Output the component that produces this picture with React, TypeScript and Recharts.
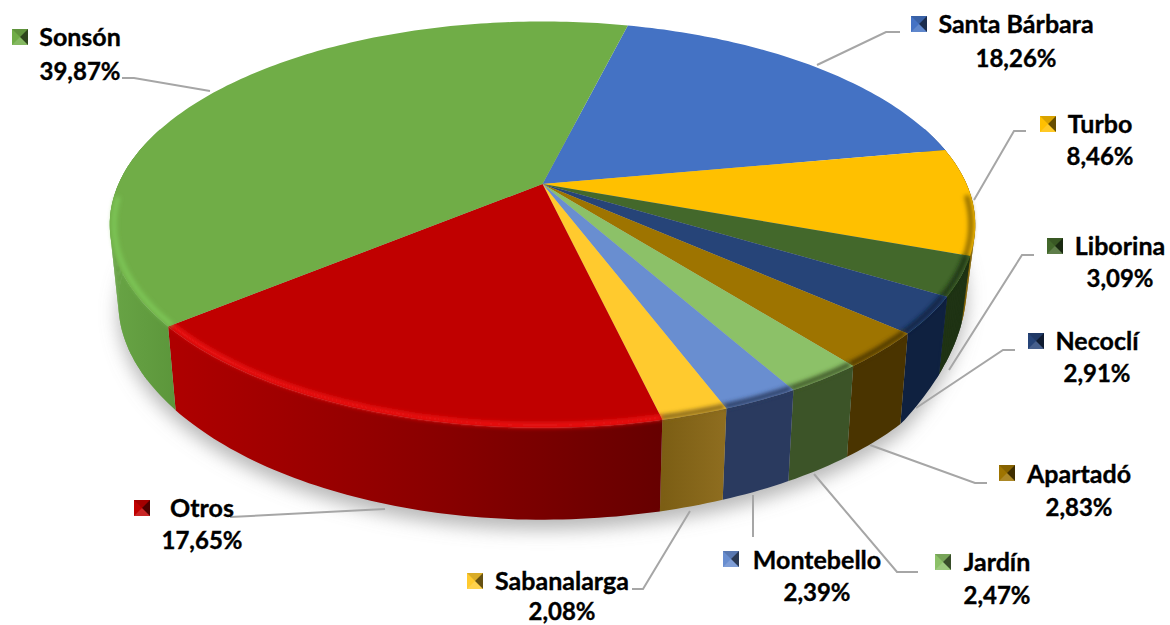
import React from "react";
import { Pie, PieChart } from "recharts";

const NAMES = ["Santa Bárbara", "Turbo", "Liborina", "Necoclí", "Apartadó", "Jardín", "Montebello", "Sabanalarga", "Otros", "Sonsón"];
const SHARES = [18.26, 8.46, 3.09, 2.91, 2.83, 2.47, 2.39, 2.08, 17.65, 39.87];

const TOP_COLORS = ["#4472C4", "#FFC000", "#43682B", "#264478", "#9E7400", "#8CC168", "#698ED0", "#FFCA2E", "#C00000", "#70AD47"];
const WALL_COLORS = ["#2F5597", "#7F6000", "#1F3314", "#0F2140", "#4A3400", "#3C5428", "#2A3A5F", "url(#sabanaWall)", "url(#otrosWall)", "url(#sonsonWall)"];
const RIM_COLORS = ["#2F5597", "#8F6C00", "#1F3314", "#0F2140", "#4A3400", "#3C5428", "#2A3A5F", "#82631C", "#F01818", "#7DC656"];

// text centre, baselines, marker corner, leader line for each label
const LABEL_LAYOUT = [
  { x: 1016, y: 33, y2: 67, mx: 911, my: 16, line: "817,65 886,32 900,32" },
  { x: 1100, y: 133, y2: 165, mx: 1040, my: 116, line: "974,200 1014,131 1026,131" },
  { x: 1120, y: 255, y2: 287, mx: 1047, my: 238, line: "949,370 1022,255 1034,255" },
  { x: 1097, y: 350, y2: 382, mx: 1028, my: 333, line: "916,408 1003,350 1015,350" },
  { x: 1079, y: 483, y2: 516, mx: 999, my: 465, line: "870,445 975,483 987,483" },
  { x: 997, y: 571, y2: 604, mx: 935, my: 554, line: "814,474 897,572 918,572" },
  { x: 817, y: 569, y2: 601, mx: 723, my: 551, line: "753,495 753,537" },
  { x: 562, y: 590, y2: 620, mx: 467, my: 573, line: "690,511 643,589 632,589" },
  { x: 202, y: 517, y2: 549, mx: 134, my: 500, line: "385,509 230,517" },
  { x: 80, y: 46, y2: 80, mx: 12, my: 29, line: "210,91 134,78 122,78" },
];

const slices = NAMES.map((name, i) => ({ name, value: SHARES[i], fill: TOP_COLORS[i] }));
const wholePie = [{ name: "sombra", value: SHARES.reduce((a, b) => a + b, 0) }];

const CX = 542.5;
const CY = 184;
const RADIUS = 424;
const TILT = 195 / 424;
const PERSPECTIVE = 0.2;
const BOTTOM_SCALE = 0.98;

// perspective view of a point on the rim, angle as recharts gives it
function project(cx: number, cy: number, r: number, angle: number) {
  const a = (angle * Math.PI) / 180;
  const X = Math.cos(a);
  const Y = -Math.sin(a);
  const s = 1 / (1 - PERSPECTIVE * Y);
  return { x: cx + r * X * s, y: cy + r * TILT * Y * s, X, Y };
}

function wallHeight(X: number) {
  return 92 - (X < 0 ? 14 * X * X : 2 * X) - 120 * Math.max(0, X - 0.75);
}

function projectBottom(cx: number, cy: number, r: number, angle: number) {
  const p = project(cx, cy, r, angle);
  return { x: cx + (p.x - cx) * BOTTOM_SCALE, y: p.y + wallHeight(p.X) };
}

function sampleAngles(start: number, end: number) {
  const n = Math.max(2, Math.ceil(Math.abs(end - start)));
  return Array.from({ length: n + 1 }, (_, i) => start + ((end - start) * i) / n);
}

function sliceIndex(props: any) {
  return NAMES.indexOf(props.payload?.name ?? props.name);
}

function toPath(points: { x: number; y: number }[]) {
  return points.map((p, i) => `${i ? "L" : "M"}${p.x.toFixed(1)} ${p.y.toFixed(1)}`).join(" ");
}

function ShadowShape(props: any) {
  const { cx, cy, outerRadius, startAngle, endAngle } = props;
  const pts = sampleAngles(startAngle, endAngle).map((a) => projectBottom(cx, cy, outerRadius, a));
  return <path d={`${toPath(pts)} Z`} transform="translate(0 10)" fill="#888" fillOpacity={0.6} filter="url(#softShadow)" />;
}

// one strip for the face, extra quads at the far left and right keep the silhouette tangent
function WallShape(props: any) {
  const { cx, cy, outerRadius, startAngle, endAngle } = props;
  const angles = sampleAngles(startAngle, endAngle).filter((a) => project(cx, cy, outerRadius, a).Y > -0.3);
  if (angles.length < 2) return null;
  const color = WALL_COLORS[sliceIndex(props)];
  const top = angles.map((a) => project(cx, cy, outerRadius, a));
  const bottom = angles.map((a) => projectBottom(cx, cy, outerRadius, a));
  return (
    <g>
      <path d={`${toPath([...top, ...[...bottom].reverse()])} Z`} fill={color} />
      {angles.slice(1).map((_, i) => {
        if (Math.abs(top[i].X) < 0.85) return null;
        const quad = [top[i], top[i + 1], bottom[i + 1], bottom[i]];
        return <path key={i} d={`${toPath(quad)} Z`} fill={color} />;
      })}
    </g>
  );
}

function TopShape(props: any) {
  const { cx, cy, outerRadius, startAngle, endAngle, fill } = props;
  const angles = sampleAngles(startAngle, endAngle);
  const rim = angles.map((a) => project(cx, cy, outerRadius * 0.99, a)).filter((p) => p.Y > 0.05);
  const outline = angles.map((a) => project(cx, cy, outerRadius, a));
  return (
    <g>
      <path d={`M${cx} ${cy} ${toPath(outline).replace("M", "L")} Z`} fill={fill} />
      {rim.length > 1 && (
        <path
          d={toPath(rim)}
          fill="none"
          stroke={RIM_COLORS[sliceIndex(props)]}
          strokeWidth={5}
          filter="url(#softRim)"
        />
      )}
    </g>
  );
}

function Marker({ x, y, color }: { x: number; y: number; color: string }) {
  const size = 16;
  const c = size / 2;
  return (
    <g transform={`translate(${x} ${y})`}>
      <rect width={size} height={size} fill={color} />
      <polygon points={`0,0 ${size},0 ${c},${c}`} fill="#000" fillOpacity={0.15} />
      <polygon points={`${size},0 ${size},${size} ${c},${c}`} fill="#000" fillOpacity={0.6} />
      <polygon points={`0,${size} ${size},${size} ${c},${c}`} fill="#fff" fillOpacity={0.15} />
    </g>
  );
}

const labelFont = { fontFamily: "Lato", fontWeight: 700, fill: "#000", stroke: "#000", strokeWidth: 0.35 };

function renderLabel(props: any) {
  const i = sliceIndex(props);
  const spot = LABEL_LAYOUT[i];
  const share = SHARES[i].toFixed(2).replace(".", ",") + "%";
  return (
    <g key={NAMES[i]}>
      <polyline points={spot.line} fill="none" stroke="#A6A6A6" strokeWidth={2} />
      <Marker x={spot.mx} y={spot.my} color={TOP_COLORS[i]} />
      <text x={spot.x} y={spot.y} textAnchor="middle" fontSize={25} {...labelFont}>
        {NAMES[i]}
      </text>
      <text x={spot.x} y={spot.y2} textAnchor="middle" fontSize={24} {...labelFont}>
        {share}
      </text>
    </g>
  );
}

export default function App() {
  const pieProps = { cx: CX, cy: CY, outerRadius: RADIUS, startAngle: 76.1, endAngle: -283.9, dataKey: "value", nameKey: "name", stroke: "none", isAnimationActive: false };
  return (
    <div style={{ position: "absolute", left: 0, top: 0, width: 1170, height: 625, background: "#fff" }}>
      <PieChart width={1170} height={625} margin={{ top: 0, right: 0, bottom: 0, left: 0 }}>
        <defs>
          <filter id="softShadow" filterUnits="userSpaceOnUse" x="0" y="0" width="1170" height="625">
            <feGaussianBlur stdDeviation="9" />
          </filter>
          <filter id="softRim" filterUnits="userSpaceOnUse" x="0" y="0" width="1170" height="625">
            <feGaussianBlur stdDeviation="2" />
          </filter>
          <linearGradient id="otrosWall" gradientUnits="userSpaceOnUse" x1="175" y1="0" x2="663" y2="0">
            <stop offset="0" stopColor="#AE0000" />
            <stop offset="0.5" stopColor="#8C0000" />
            <stop offset="1" stopColor="#660000" />
          </linearGradient>
          <linearGradient id="sonsonWall" gradientUnits="userSpaceOnUse" x1="108" y1="0" x2="180" y2="0">
            <stop offset="0" stopColor="#69A546" />
            <stop offset="1" stopColor="#5B953A" />
          </linearGradient>
          <linearGradient id="sabanaWall" gradientUnits="userSpaceOnUse" x1="663" y1="0" x2="727" y2="0">
            <stop offset="0" stopColor="#7C5E14" />
            <stop offset="1" stopColor="#8F6E20" />
          </linearGradient>
        </defs>
        <Pie {...pieProps} data={wholePie} startAngle={0} endAngle={-360} shape={ShadowShape} />
        <Pie {...pieProps} data={slices} shape={WallShape} />
        <Pie {...pieProps} data={slices} shape={TopShape} label={renderLabel} labelLine={false} />
      </PieChart>
    </div>
  );
}
